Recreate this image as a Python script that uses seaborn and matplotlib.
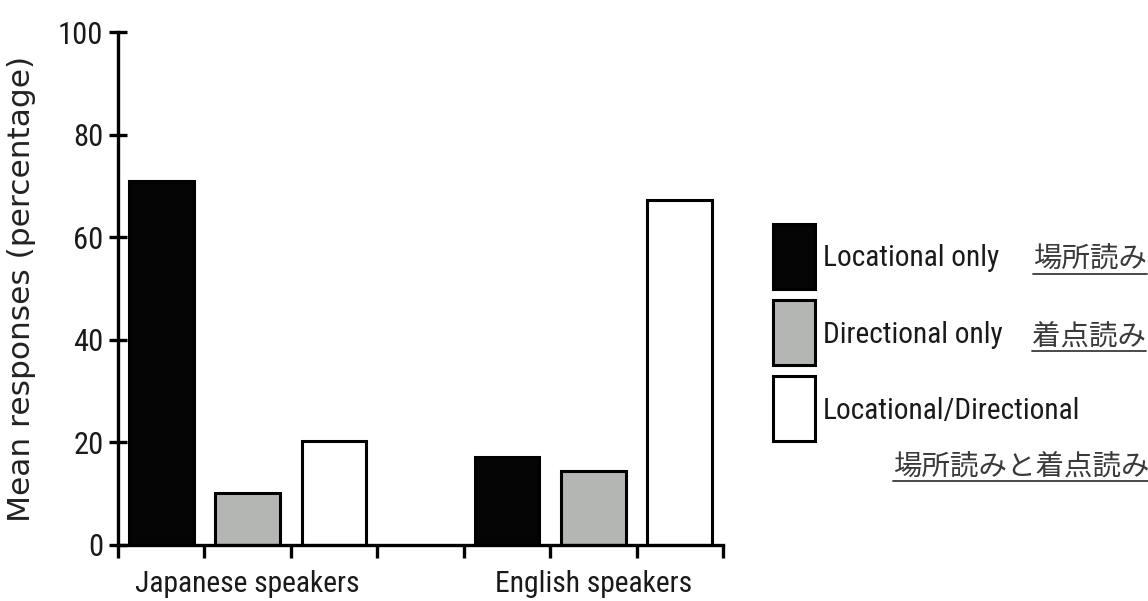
import matplotlib
matplotlib.use("Agg")
import numpy as np
import pandas as pd
import matplotlib.pyplot as plt
import matplotlib.patches as mpatches
import seaborn as sns
from matplotlib import font_manager
from matplotlib.font_manager import FontProperties
from matplotlib.legend_handler import HandlerPatch
from matplotlib.lines import Line2D

# ---- data -------------------------------------------------------------
groups = ["Japanese speakers", "English speakers"]
categories = ["Locational only", "Directional only", "Locational/Directional"]
japanese_values = [71.0, 10.2, 20.3]
english_values = [17.2, 14.5, 67.2]
jp_notes = ["場所読み", "着点読み", "場所読みと着点読み"]
bar_colors = ["#050505", "#b4b6b3", "#ffffff"]

# ---- long-form table: one slot per bar, with an empty slot between groups
rows = []
for grp, vals in zip(groups, [japanese_values, english_values]):
    for cat, v in zip(categories, vals):
        rows.append({"slot": f"{grp}|{cat}", "category": cat, "value": v})
df = pd.DataFrame(rows)
order = [f"{groups[0]}|{c}" for c in categories] + ["gap"] + \
        [f"{groups[1]}|{c}" for c in categories]

sns.set_style("white")
plt.rcParams["font.family"] = ["DejaVu Sans"]


def narrow_font_file():
    """Pick a regular-weight narrow/condensed sans face if one is installed."""
    best = None
    for f in font_manager.fontManager.ttflist:
        name, path = f.name.lower(), f.fname.lower()
        if f.style != "normal" or f.weight not in (400, "normal", "regular", "book"):
            continue
        if any(k in path for k in ("semi", "extra", "ultra", "italic", "bold", "light")):
            continue
        narrowish = ("narrow" in name or "condensed" in name or "narrow" in path
                     or "condensed" in path or f.stretch in ("condensed", "semi-condensed"))
        if not narrowish:
            continue
        rank = 0 if "liberation" in name else 1 if "roboto" in name else 2 if "noto sans" in name else 3
        if "cjk" in name or "mono" in name or "serif" in name:
            continue
        if best is None or rank < best[0]:
            best = (rank, f.fname)
    return best[1] if best else None


nf = narrow_font_file()


def tick_font(size):
    if nf:
        return FontProperties(fname=nf, size=size)
    return FontProperties(family="DejaVu Sans", size=size)


W, H = 1148, 601
fig = plt.figure(figsize=(W / 100, H / 100), dpi=100)
ax = fig.add_axes([118 / W, 1 - 545 / H, 605 / W, 513 / H])

sns.barplot(data=df, x="slot", y="value", hue="category", order=order,
            hue_order=categories, palette=bar_colors, dodge=False, width=0.75,
            saturation=1, edgecolor="black", linewidth=2.2, ax=ax, legend=False)

ax.set_xlim(-0.5, len(order) - 0.5)
ax.set_ylim(0, 100)
for side in ["top", "right"]:
    ax.spines[side].set_visible(False)
for side in ["left", "bottom"]:
    ax.spines[side].set_linewidth(2.4)
    ax.spines[side].set_color("black")

# y axis
ax.set_yticks([0, 20, 40, 60, 80, 100])
ax.tick_params(axis="y", left=True, direction="inout", length=13, width=2.4,
               pad=4, colors="black")
for lbl in ax.get_yticklabels():
    lbl.set_fontproperties(tick_font(22))
    lbl.set_color("#1a1a1a")
ax.set_ylabel("Mean responses (percentage)", family="DejaVu Sans",
              fontsize=22.5, color="#222222")
ax.yaxis.set_label_coords(-0.135, 0.5)

# x axis: boundary ticks plus group names centred under each group
boundaries = np.arange(-0.5, len(order), 1.0)
ax.set_xticks(boundaries)
ax.set_xticklabels([""] * len(boundaries))
ax.tick_params(axis="x", which="major", bottom=True, direction="out", length=9,
               width=2.4, colors="black")
ax.set_xticks([1, 5], minor=True)
ax.set_xticklabels(groups, minor=True)
ax.tick_params(axis="x", which="minor", bottom=True, length=0, pad=18)
for lbl in ax.get_xticklabels(minor=True):
    lbl.set_fontproperties(tick_font(21.3))
    lbl.set_color("#1a1a1a")
ax.set_xlabel("")

# legend with tall boxes at the right
fs = 21.2
px = fs * 100 / 72
box_w, box_h = 42 * 0.72, 65 * 0.72   # points


def tall_box(legend, orig_handle, xdescent, ydescent, width, height, fontsize):
    cy = -ydescent + height / 2
    return mpatches.Rectangle((-xdescent, cy - box_h / 2), box_w, box_h)


proxies = [mpatches.Patch(facecolor=c, edgecolor="black", linewidth=2.2, label=cat)
           for c, cat in zip(bar_colors, categories)]
leg = ax.legend(handles=proxies, loc="upper left",
                bbox_to_anchor=(773 / W, 1 - 243 / H), bbox_transform=fig.transFigure,
                frameon=False, prop=tick_font(fs), borderpad=0, borderaxespad=0,
                handlelength=42 / px, handleheight=1.0,
                labelspacing=1.6, handletextpad=0.27,
                handler_map={mpatches.Patch: HandlerPatch(patch_func=tall_box)})
for t in leg.get_texts():
    t.set_color("#1a1a1a")

# Japanese notes with underlines
jp_pos = [(1033, 260), (1032, 337), (893, 467)]
jp_texts = []
for note, (x, y) in zip(jp_notes, jp_pos):
    jp_texts.append(fig.text(x / W, 1 - y / H, note, ha="left", va="center",
                             fontsize=20.5, color="#3a3a3a",
                             family=["Noto Sans CJK JP", "DejaVu Sans"]))

fig.canvas.draw()
renderer = fig.canvas.get_renderer()
for t in jp_texts:
    bb = t.get_window_extent(renderer)
    yline = bb.y0 + 1
    fig.add_artist(Line2D([bb.x0 / W, min(bb.x1, W) / W], [yline / H, yline / H],
                          transform=fig.transFigure, color="#3a3a3a", lw=1.3))

fig.savefig("out.png", dpi=100, facecolor="white")
